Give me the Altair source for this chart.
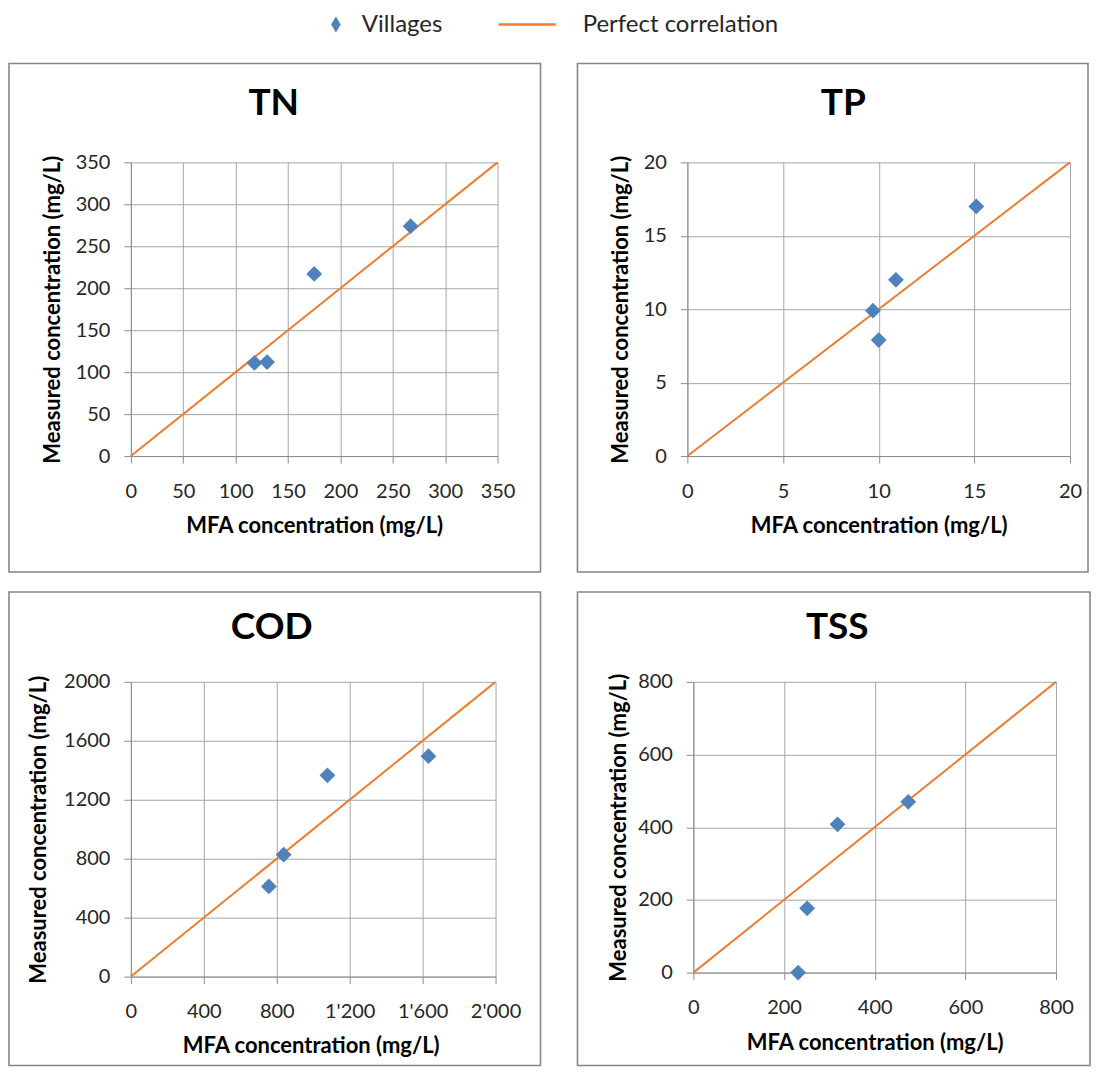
import altair as alt
import pandas as pd

# ---------------- data ----------------
panel_names = ["TN", "TP", "COD", "TSS"]

tn_mfa = [118, 130, 175, 267]
tn_measured = [111, 112, 217, 274]

tp_mfa = [9.7, 10.0, 10.9, 15.1]
tp_measured = [9.9, 7.9, 12.0, 17.0]

cod_mfa = [757, 838, 1078, 1632]
cod_measured = [612, 827, 1366, 1496]

tss_mfa = [231, 251, 318, 474]
tss_measured = [0, 177, 408, 470]

axis_max = [350, 20, 2000, 800]
tn_ticks = [0, 50, 100, 150, 200, 250, 300, 350]
tp_ticks = [0, 5, 10, 15, 20]
cod_ticks = [0, 400, 800, 1200, 1600, 2000]
tss_ticks = [0, 200, 400, 600, 800]

x_title = "MFA concentration (mg/L)"
y_title = "Measured concentration (mg/L)"
legend_labels = ["Villages", "Perfect correlation"]

BLUE = "#4f81bd"
ORANGE = "#ed7d31"
BOX = "#878787"
FONT = "Lato"
TEXT = "#262626"

# layout (pixel geometry of each panel, relative to its plot area)
geo = {
    "TN":  dict(w=367, h=294, box=(-122, 410, -99, 410), title=(143, -58), ytx=-78, xty=69, xtx=183.5),
    "TP":  dict(w=383, h=294, box=(-110, 401, -99, 410), title=(156, -58), ytx=-67, xty=69, xtx=191.5),
    "COD": dict(w=365, h=295, box=(-122, 410, -90, 384), title=(141, -54), ytx=-92, xty=69, xtx=180),
    "TSS": dict(w=363, h=291, box=(-116, 397, -90, 384), title=(144, -54), ytx=-75, xty=70, xtx=181.5),
}

one_row = pd.DataFrame({"k": [0]})
x_label_expr = "replace(format(datum.value, ','), ',', \"'\")"


def panel(name, mfa, measured, vmax, ticks):
    g = geo[name]
    pts = pd.DataFrame({"mfa": mfa, "measured": measured})
    diag = pd.DataFrame({"mfa": [0, vmax], "measured": [0, vmax]})

    xscale = alt.Scale(domain=[0, vmax], nice=False, zero=True)
    yscale = alt.Scale(domain=[0, vmax], nice=False, zero=True)
    xaxis = alt.Axis(values=ticks, title=x_title, labelExpr=x_label_expr,
                     titleX=g["xtx"], titleY=g["xty"], titleAlign="center",
                     titleBaseline="middle", labelPadding=18, labelBaseline="top")
    yaxis = alt.Axis(values=ticks, title=y_title, format="d",
                     titleX=g["ytx"], titleY=g["h"] / 2, titleAlign="center",
                     titleBaseline="middle", titleAngle=270, labelPadding=14)

    x0, x1, y0, y1 = g["box"]
    box = alt.Chart(one_row).mark_rect(
        fill="white", fillOpacity=0, stroke=BOX, strokeWidth=1.6
    ).encode(x=alt.value(x0), x2=alt.value(x1), y=alt.value(y0), y2=alt.value(y1))

    title = alt.Chart(one_row).mark_text(
        font=FONT, fontSize=37, fontWeight="bold", color="black",
        align="center", baseline="middle"
    ).encode(x=alt.value(g["title"][0]), y=alt.value(g["title"][1]), text=alt.value(name))

    line = alt.Chart(diag).mark_line(color=ORANGE, strokeWidth=2).encode(
        x=alt.X("mfa:Q", scale=xscale, axis=xaxis),
        y=alt.Y("measured:Q", scale=yscale, axis=yaxis),
    )
    points = alt.Chart(pts).mark_point(
        shape="diamond", filled=True, color=BLUE, opacity=1, size=250
    ).encode(
        x=alt.X("mfa:Q", scale=xscale, axis=xaxis),
        y=alt.Y("measured:Q", scale=yscale, axis=yaxis),
    )
    return alt.layer(box, title, line, points).properties(width=g["w"], height=g["h"])


tn = panel("TN", tn_mfa, tn_measured, axis_max[0], tn_ticks)
tp = panel("TP", tp_mfa, tp_measured, axis_max[1], tp_ticks)
cod = panel("COD", cod_mfa, cod_measured, axis_max[2], cod_ticks)
tss = panel("TSS", tss_mfa, tss_measured, axis_max[3], tss_ticks)

# ---------------- legend (left bound padded to the page edge of the panels) ----------------
LX = -122.8
leg_pad = alt.Chart(one_row).mark_rect(fillOpacity=0, strokeOpacity=0).encode(
    x=alt.value(LX), x2=alt.value(0), y=alt.value(0), y2=alt.value(36)
)
leg_sym = alt.Chart(one_row).mark_point(
    shape="M-0.6,0L0,-1L0.6,0L0,1Z", filled=True, color=BLUE, opacity=1, size=260
).encode(x=alt.value(336 - 130.8), y=alt.value(16))
leg_t1 = alt.Chart(one_row).mark_text(
    font=FONT, fontSize=24, color=TEXT, align="left", baseline="middle"
).encode(x=alt.value(362 - 130.8), y=alt.value(17), text=alt.value(legend_labels[0]))
leg_line = alt.Chart(one_row).mark_rule(color=ORANGE, strokeWidth=2.5).encode(
    x=alt.value(499 - 130.8), x2=alt.value(556 - 130.8), y=alt.value(16)
)
leg_t2 = alt.Chart(one_row).mark_text(
    font=FONT, fontSize=24, color=TEXT, align="left", baseline="middle"
).encode(x=alt.value(583 - 130.8), y=alt.value(17), text=alt.value(legend_labels[1]))
legend = alt.layer(leg_pad, leg_sym, leg_t1, leg_line, leg_t2).properties(width=800, height=36)

row1 = alt.hconcat(tn, tp, spacing=35)
row2 = alt.hconcat(cod, tss, spacing=35)

chart = alt.vconcat(legend, row1, row2, spacing=18).properties(
    padding=0, background="white"
).configure_view(strokeWidth=0).configure_axis(
    grid=True, gridColor="#a6a6a6", gridWidth=1,
    domainColor="#8c8c8c", domainWidth=1,
    tickColor="#8c8c8c", tickSize=7, tickWidth=1,
    labelFont=FONT, labelFontSize=20, labelColor=TEXT,
    titleFont=FONT, titleFontSize=22, titleFontWeight="bold", titleColor="black",
    labelOverlap=False, labelFlush=False,
)

chart.save("out.html", embed_options={"renderer": "svg", "actions": False})
